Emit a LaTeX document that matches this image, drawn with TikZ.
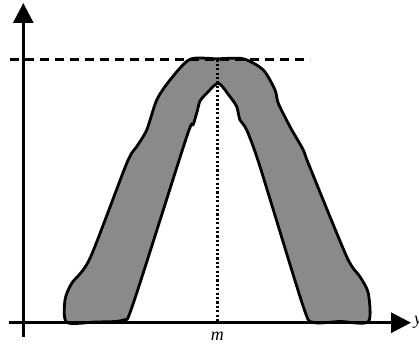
\documentclass[tikz,border=0pt]{standalone}
\usepackage{fontspec}
\setmainfont{Liberation Serif}
\usetikzlibrary{arrows.meta, positioning}
\definecolor{cband}{gray}{0.54}

\begin{document}
\begin{tikzpicture}[
    x=1pt, y=-1pt,
    axis/.style={line width=3pt, -{Triangle[length=20pt, width=20pt]}},
    band/.style={draw, fill=cband, line width=2.8pt, line join=round},
    hline/.style={line width=2.8pt, dash pattern=on 9pt off 6pt},
    vline/.style={line width=2.4pt, dash pattern=on 2.2pt off 2.2pt},
    lbl/.style={font=\fontsize{18}{18}\selectfont\itshape, inner sep=0pt}
]
\useasboundingbox (0,0) rectangle (419,345);
% axes
\coordinate (o) at (23.3,322.7);
\coordinate (ybot) at (23.3,337);
\coordinate (ytop) at (23.3,3);
\coordinate (xleft) at (9,322.7);
\coordinate (xright) at (411,322.7);
% band
\draw[band] plot[smooth cycle, tension=0.45] coordinates {
  (66.7,322.3) (65,300) (71.7,283.3) (90,258.3) (126.7,163.3) (136.7,146.7)
  (146.7,130) (156.7,100) (170,80) (190,59.3) (217,58.8) (243.3,58.8) (263.3,70)
  (275,90) (278.3,103.3) (290,126.7) (303.3,150) (308.3,163.3) (346.7,256.7)
  (360,276.7) (368.3,293.3) (368.3,321.7) (340,321.5) (313.3,322.3) (303.3,306.7)
  (260,166.7) (246.7,130) (240,120) (236.7,106.7) (230,96.7) (218.3,83.3)
  (206.7,93.3) (200,101) (197,112) (193,125) (186.7,136.7) (133.3,303.3) (123.3,320)
  (95,322)};
% guides
\coordinate (top) at (217.3,59.3);
\coordinate (dl) at (10,59.3);
\coordinate (dr) at (310,59.3);
\coordinate (foot) at (217.3,322.7);
\draw[hline] (dl) -- (dr);
\draw[vline] (top) -- (foot);
\draw[axis] (ybot) -- (ytop);
\draw[axis] (xleft) -- (xright);
\node[lbl, below=9pt of foot] (m) {m};
\node[lbl, right=3pt of xright] (y) {y};
\end{tikzpicture}
\end{document}
